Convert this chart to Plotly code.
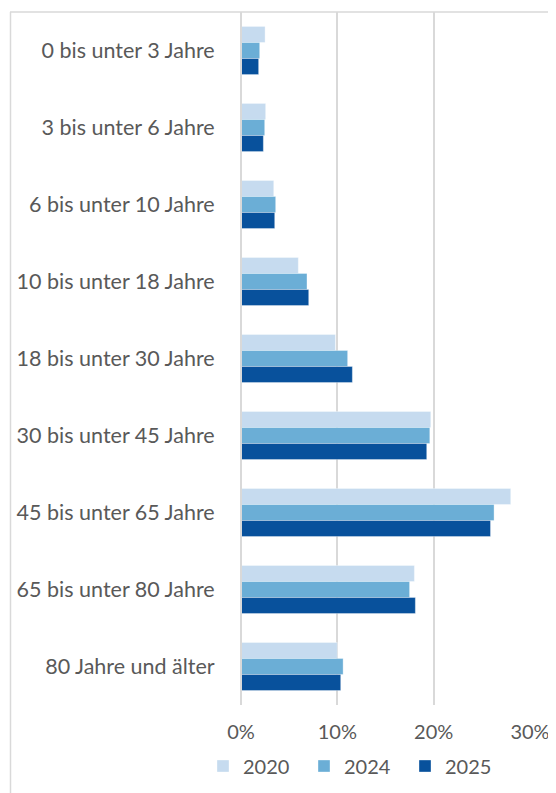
import plotly.graph_objects as go

categories = [
    "0 bis unter 3 Jahre",
    "3 bis unter 6 Jahre",
    "6 bis unter 10 Jahre",
    "10 bis unter 18 Jahre",
    "18 bis unter 30 Jahre",
    "30 bis unter 45 Jahre",
    "45 bis unter 65 Jahre",
    "65 bis unter 80 Jahre",
    "80 Jahre und älter",
]
values_2020 = [0.025, 0.0256, 0.034, 0.0595, 0.098, 0.197, 0.280, 0.180, 0.100]
values_2024 = [0.0194, 0.0246, 0.036, 0.0685, 0.1107, 0.196, 0.2627, 0.175, 0.106]
values_2025 = [0.0183, 0.0232, 0.035, 0.0703, 0.1156, 0.1928, 0.259, 0.181, 0.1035]
series_names = ["2020", "2024", "2025"]
colors = ["#C6DBEF", "#6BAED6", "#08519C"]
x_ticks = [0, 0.1, 0.2, 0.3]
x_tick_labels = ["0%", "10%", "20%", "30%"]

# page is 556x793; the HTML body has an 8px margin, so the figure is offset
OFF = 8
PAGE_W, PAGE_H = 556, 793
W, H = PAGE_W - OFF, PAGE_H - OFF
# plot area in page pixels
PL, PR, PT, PB = 241, 530, 12, 705
L = PL - OFF
R = W - (PR - OFF)
T = PT - OFF
B = H - (PB - OFF)
pw = W - L - R
ph = H - T - B

def px_x(p):
    return (p - PL) / pw

def px_y(p):
    return (PB - p) / ph

fig = go.Figure()
for name, vals, col in zip(series_names, [values_2020, values_2024, values_2025], colors):
    fig.add_trace(go.Bar(
        y=categories, x=vals, name=name, orientation="h",
        marker=dict(color=col, line=dict(color="rgba(255,255,255,0.35)", width=1)),
    ))

font_family = "Lato, 'Open Sans', sans-serif"
fig.update_layout(
    width=W, height=H,
    margin=dict(l=L, r=R, t=T, b=B, autoexpand=False),
    paper_bgcolor="white", plot_bgcolor="white",
    barmode="group", bargap=0.375, bargroupgap=0,
    font=dict(family=font_family, color="#595959", size=20),
    xaxis=dict(
        range=[0, 0.3], tickvals=x_ticks, ticktext=x_tick_labels,
        showgrid=True, gridcolor="#D9D9D9", gridwidth=1.5,
        zeroline=False, showline=False,
        ticks="outside", ticklen=9, tickcolor="rgba(0,0,0,0)",
        tickfont=dict(size=20, color="#595959"),
        fixedrange=True,
    ),
    yaxis=dict(
        categoryorder="array", categoryarray=categories,
        autorange="reversed",
        showgrid=False, zeroline=False,
        showline=False,
        ticks="outside", ticklen=21, tickcolor="rgba(0,0,0,0)",
        tickfont=dict(size=21.5, color="#595959"),
        fixedrange=True,
    ),
    legend=dict(
        orientation="h", x=px_x(203), xanchor="left",
        y=px_y(766), yanchor="middle",
        font=dict(size=20, color="#595959"),
        traceorder="normal", itemwidth=30,
        entrywidth=56, entrywidthmode="pixels",
        bgcolor="rgba(0,0,0,0)",
    ),
    showlegend=True,
)

# 0% axis line styled like the gridlines
fig.add_shape(type="line", xref="paper", yref="paper", x0=0, x1=0, y0=0, y1=1,
              line=dict(color="#D9D9D9", width=2))
# outer chart frame (top and left edges visible)
fig.add_shape(type="line", xref="paper", yref="paper",
              x0=px_x(10), x1=px_x(PAGE_W + 5), y0=px_y(12), y1=px_y(12),
              line=dict(color="#D9D9D9", width=1.5))
fig.add_shape(type="line", xref="paper", yref="paper",
              x0=px_x(10.5), x1=px_x(10.5), y0=px_y(12), y1=px_y(PAGE_H + 5),
              line=dict(color="#D9D9D9", width=1.5))

fig.write_html("out.html")
